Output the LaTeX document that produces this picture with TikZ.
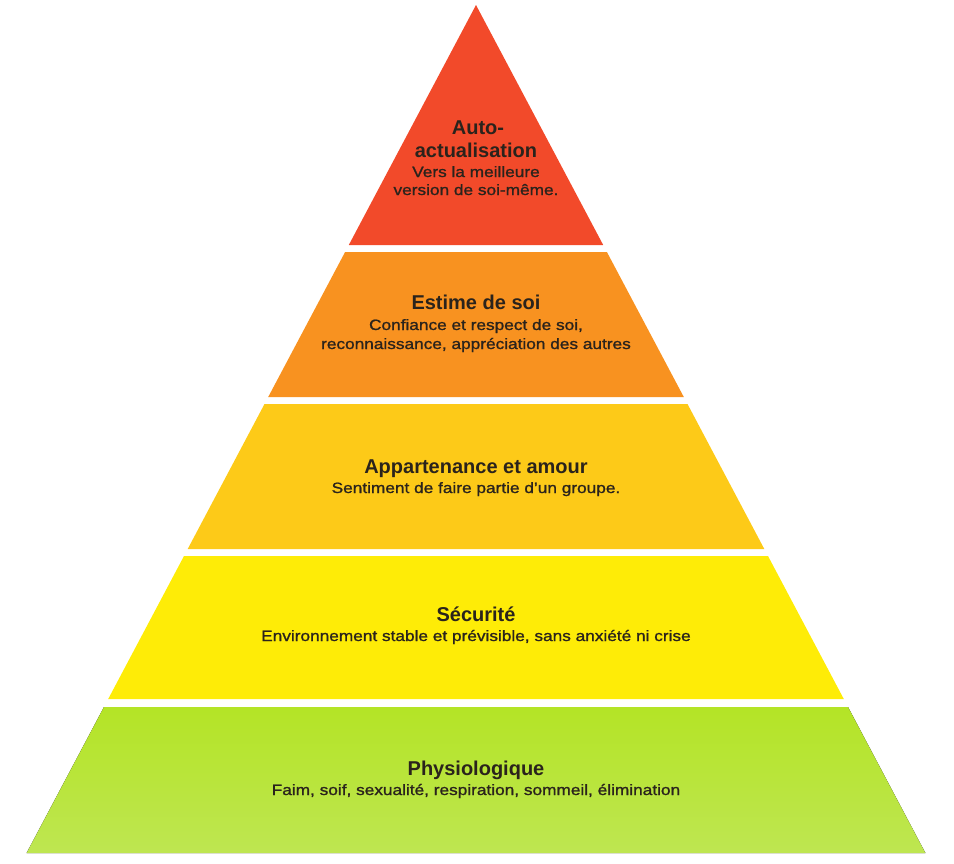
\documentclass[tikz,border=0pt]{standalone}
\usepackage{fontspec}
\setmainfont{Liberation Sans}
\newfontfamily\breit[FakeStretch=1.15,FakeBold=1.2]{Liberation Sans}

\definecolor{stuferot}{HTML}{F24A2A}
\definecolor{stufeorange}{HTML}{F89220}
\definecolor{stufegold}{HTML}{FDCA18}
\definecolor{stufegelb}{HTML}{FEEC07}
\definecolor{gruenoben}{HTML}{B4E426}
\definecolor{gruenunten}{HTML}{BEE651}
\definecolor{schrift}{HTML}{2A231C}

\begin{document}
\begin{tikzpicture}[x=1pt,y=-1pt,
    titel/.style={anchor=base,inner sep=0pt,text=schrift,font=\fontsize{20}{22}\selectfont\bfseries},
    unter/.style={anchor=base,inner sep=0pt,text=schrift,font=\breit\fontsize{15}{19}\selectfont}]
\useasboundingbox (0,0) rectangle (954,863);

% Stufen, von oben nach unten:
\fill[stuferot] (476,5) -- (603.2,245) -- (348.8,245) -- cycle; % Spitze
\fill[stufeorange] (345.1,252) -- (606.9,252) -- (683.8,397) -- (268.2,397) -- cycle; % zweite Stufe
\fill[stufegold] (264.5,404) -- (687.5,404) -- (764.3,549) -- (187.7,549) -- cycle; % dritte Stufe
\fill[stufegelb] (184,556) -- (768,556) -- (843.8,699) -- (108.2,699) -- cycle; % vierte Stufe
\fill[top color=gruenoben, bottom color=gruenunten] (104,707) -- (848,707) -- (925.4,853) -- (26.6,853) -- cycle; % Basis

% Texte:
\node[titel] (auto) at (478,134) {Auto-};
\node[titel] (aktual) at (476,157) {actualisation};
\node[unter] (vers) at (476,177) {Vers la meilleure};
\node[unter] (version) at (476,195) {version de soi-même.};

\node[titel] (estime) at (476,309) {Estime de soi};
\node[unter] (confiance) at (476,330) {Confiance et respect de soi,};
\node[unter] (reconn) at (476,349) {reconnaissance, appréciation des autres};

\node[titel] (appart) at (476,473) {Appartenance et amour};
\node[unter] (sentiment) at (476,493) {Sentiment de faire partie d’un groupe.};

\node[titel] (secu) at (476,621) {Sécurité};
\node[unter] (environ) at (476,641) {Environnement stable et prévisible, sans anxiété ni crise};

\node[titel] (physio) at (476,775) {Physiologique};
\node[unter] (faim) at (476,795) {Faim, soif, sexualité, respiration, sommeil, élimination};
\end{tikzpicture}
\end{document}
